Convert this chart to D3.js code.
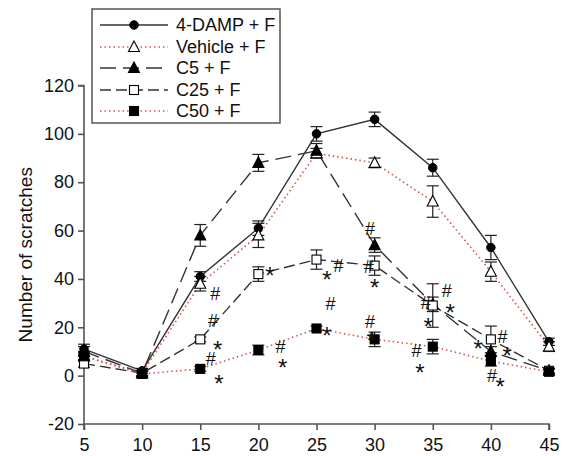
<!DOCTYPE html>
<html><head><meta charset="utf-8">
<script src="https://cdn.jsdelivr.net/npm/d3@7"></script>
<style>body{margin:0;background:#fff}svg{display:block}</style>
</head><body><svg id="c" width="569" height="456"></svg>
<script>
// ---- data ----
const times = [5, 10, 15, 20, 25, 30, 35, 40, 45];
const seriesNames = ["4-DAMP + F", "Vehicle + F", "C5 + F", "C25 + F", "C50 + F"];
const damp       = [11, 2, 41, 61, 100, 106, 86, 53, 14];
const dampErr    = [2, 1, 2, 3, 3, 3, 3.5, 5, 1.5];
const vehicle    = [8, 1, 38, 58, 92, 88, 72, 43, 12];
const vehicleErr = [2, 1, 3, 5, 2, 2, 6.5, 4, 2];
const c5         = [10, 1, 58, 88, 93, 54, 29.5, 10, 2];
const c5Err      = [2, 1, 4.5, 3.5, 3, 3, 3, 2, 1];
const c25        = [5, 1, 15, 42, 48, 45.5, 29, 15, 2];
const c25Err     = [1.5, 1, 1, 3, 4, 4, 9, 5.5, 1];
const c50        = [8, 0.7, 2.8, 10.6, 19.5, 15, 12, 6, 1.6];
const c50Err     = [1.5, 1, 1, 2, 1, 3, 3, 2, 1];
const yTicks = [-20, 0, 20, 40, 60, 80, 100, 120];
const xTicks = [5, 10, 15, 20, 25, 30, 35, 40, 45];
const annoSymbols = ["#","#","*","#","*","*","#","*","*","#","#","*","#","*","#","*","#","*","#","*","#","*","#","*","*","#","*","#","*"];
const annoT       = [16.3,16.1,16.5,15.9,16.6,21.0,21.9,22.1,25.9,26.9,26.2,25.9,29.6,30.0,29.5,29.7,33.6,33.9,36.2,36.5,34.4,34.6,29.6,29.8,38.9,41.0,41.4,40.1,40.8];
const annoV       = [33.8,22.5,15,7,1,45.5,11.7,7.3,44,45.5,29.5,20.7,60.6,40.6,44.8,18.6,10.3,5.3,35,30.3,29.9,24.3,22,18.6,15.2,16,12.4,0,-0.5];

// ---- setup ----
const svg = d3.select("#c");
const x = d3.scaleLinear().domain([5, 45]).range([84, 549]);
const y = d3.scaleLinear().domain([-20, 120]).range([424, 85.5]);
const font = "'Liberation Sans', Arial, sans-serif";

const series = [
  {name: seriesNames[0], vals: damp, err: dampErr, color: "#333", dash: null, marker: "circle", fill: "#000"},
  {name: seriesNames[1], vals: vehicle, err: vehicleErr, color: "#d9534f", dash: "1.5,3", marker: "triangle", fill: "#fff"},
  {name: seriesNames[2], vals: c5, err: c5Err, color: "#333", dash: "16,7", marker: "triangle", fill: "#000"},
  {name: seriesNames[3], vals: c25, err: c25Err, color: "#333", dash: "11,5", marker: "square", fill: "#fff"},
  {name: seriesNames[4], vals: c50, err: c50Err, color: "#d9534f", dash: "1.5,3", marker: "square", fill: "#000"}
];

// axes
const gy = svg.append("g").attr("transform", `translate(${x(5)},0)`)
  .call(d3.axisLeft(y).tickValues(yTicks).tickFormat(d => String(d)).tickSize(6).tickSizeOuter(0).tickPadding(4));
const gx = svg.append("g").attr("transform", `translate(0,${y(-20)})`)
  .call(d3.axisBottom(x).tickValues(xTicks).tickFormat(d => String(d)).tickSize(6).tickSizeOuter(0).tickPadding(8));
[gx, gy].forEach(g => {
  g.selectAll("path,line").attr("stroke", "#555").attr("stroke-width", 1.6);
  g.selectAll("text").attr("font-family", font).attr("font-size", 18).attr("fill", "#111");
});
gx.select(".domain").attr("d", `M${x(5)},0V6V0H${x(45)}V6`);
gy.select(".domain").attr("d", `M-6,${y(120)}H0V${y(-20)}`);

svg.append("text").attr("transform", `translate(25,${(y(120)+y(-20))/2}) rotate(-90)`)
  .attr("text-anchor", "middle").attr("dominant-baseline", "central")
  .attr("font-family", font).attr("font-size", 19).attr("fill", "#111")
  .text("Number of scratches");

function drawMarker(g, type, cx, cy, fill, s) {
  if (type === "circle") {
    g.append("circle").attr("cx", cx).attr("cy", cy).attr("r", s * 0.5)
      .attr("fill", fill).attr("stroke", "#000").attr("stroke-width", 1);
  } else if (type === "triangle") {
    const h = s;
    g.append("path").attr("d", `M${cx},${cy - h*0.6}L${cx + h*0.55},${cy + h*0.45}L${cx - h*0.55},${cy + h*0.45}Z`)
      .attr("fill", fill).attr("stroke", "#000").attr("stroke-width", 1.1);
  } else {
    g.append("rect").attr("x", cx - s/2).attr("y", cy - s/2).attr("width", s).attr("height", s)
      .attr("fill", fill).attr("stroke", "#000").attr("stroke-width", 1.1);
  }
}

const line = d3.line().x((d, i) => x(times[i])).y(d => y(d));
const markSize = [8.5, 10, 10, 9, 9];

// lines
series.forEach(s => {
  svg.append("path").datum(s.vals).attr("d", line)
    .attr("fill", "none").attr("stroke", s.color).attr("stroke-width", s.color === "#333" ? 1.4 : 1.6)
    .attr("stroke-dasharray", s.dash);
});
// error bars
series.forEach(s => {
  const g = svg.append("g").attr("stroke", "#222").attr("stroke-width", 1.2);
  s.vals.forEach((v, i) => {
    const cx = x(times[i]), top = y(v + s.err[i]), bot = y(v - s.err[i]);
    g.append("line").attr("x1", cx).attr("x2", cx).attr("y1", top).attr("y2", bot);
    g.append("line").attr("x1", cx - 6).attr("x2", cx + 6).attr("y1", top).attr("y2", top);
    g.append("line").attr("x1", cx - 6).attr("x2", cx + 6).attr("y1", bot).attr("y2", bot);
  });
});
// markers
series.forEach((s, k) => {
  const g = svg.append("g");
  s.vals.forEach((v, i) => drawMarker(g, s.marker, x(times[i]), y(v), s.fill, markSize[k]));
});

// annotations
annoSymbols.forEach((sym, i) => {
  svg.append("text").attr("x", x(annoT[i])).attr("y", y(annoV[i]) + (sym === "*" ? 10 : 0))
    .attr("text-anchor", "middle").attr("dominant-baseline", "central")
    .attr("font-family", font).attr("font-size", sym === "*" ? 24 : 18).attr("fill", "#111")
    .text(sym);
});

// legend
const lg = svg.append("g");
lg.append("rect").attr("x", 92).attr("y", 9).attr("width", 188).attr("height", 114)
  .attr("fill", "#fff").attr("stroke", "#555").attr("stroke-width", 1.5);
const rowY = [25, 47, 68, 90, 111];
series.forEach((s, k) => {
  lg.append("line").attr("x1", 100).attr("x2", 168).attr("y1", rowY[k]).attr("y2", rowY[k])
    .attr("stroke", s.color).attr("stroke-width", s.color === "#333" ? 1.4 : 1.6).attr("stroke-dasharray", s.dash);
  drawMarker(lg, s.marker, 134, rowY[k], s.fill, markSize[k]);
  lg.append("text").attr("x", 176).attr("y", rowY[k]).attr("dominant-baseline", "central")
    .attr("font-family", font).attr("font-size", 18).attr("fill", "#111").text(s.name);
});
</script></body></html>
